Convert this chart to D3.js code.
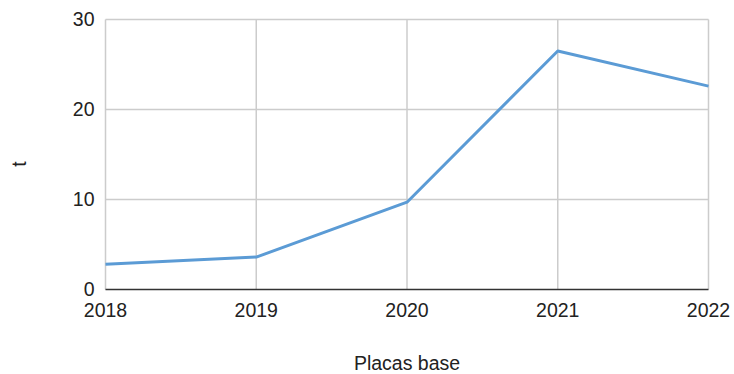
<!DOCTYPE html>
<html>
<head>
<meta charset="utf-8">
<script src="https://cdn.jsdelivr.net/npm/d3@7"></script>
<style>
  html, body { margin: 0; padding: 0; background: #fff; }
  svg { display: block; font-family: "Liberation Sans", Arial, sans-serif; }
</style>
</head>
<body>
<svg id="chart" width="734" height="374"></svg>
<script>
// Yearly tonnage of motherboards
const years = ["2018", "2019", "2020", "2021", "2022"];
const tonnes = [2.8, 3.6, 9.7, 26.5, 22.6];
const yTicks = [0, 10, 20, 30];
const xTitle = "Placas base";
const yTitle = "t";

const svg = d3.select("#chart");
const margin = { left: 105.5, right: 25.5, top: 19.5, bottom: 84.5 };
const W = 734, H = 374;
const fontSize = 19.5;

const x = d3.scalePoint().domain(years).range([margin.left, W - margin.right]);
const y = d3.scaleLinear().domain([0, 30]).range([H - margin.bottom, margin.top]);

// horizontal gridlines
svg.append("g").selectAll("line").data(yTicks.filter(d => d !== 0)).join("line")
  .attr("x1", margin.left).attr("x2", W - margin.right)
  .attr("y1", d => y(d)).attr("y2", d => y(d))
  .attr("stroke", "#cccccc").attr("stroke-width", 1.5);

// vertical gridlines
svg.append("g").selectAll("line").data(years).join("line")
  .attr("x1", d => x(d)).attr("x2", d => x(d))
  .attr("y1", margin.top).attr("y2", y(0))
  .attr("stroke", "#cccccc").attr("stroke-width", 1.5);

// baseline
svg.append("line")
  .attr("x1", margin.left).attr("x2", W - margin.right)
  .attr("y1", y(0)).attr("y2", y(0))
  .attr("stroke", "#333333").attr("stroke-width", 1.5);

// y tick labels
svg.append("g").selectAll("text").data(yTicks).join("text")
  .attr("x", margin.left - 11).attr("y", d => y(d))
  .attr("dy", "0.35em").attr("text-anchor", "end")
  .attr("font-size", fontSize).attr("fill", "#222")
  .text(d => d);

// x tick labels
svg.append("g").selectAll("text").data(years).join("text")
  .attr("x", d => x(d)).attr("y", y(0) + 27)
  .attr("text-anchor", "middle")
  .attr("font-size", fontSize).attr("fill", "#222")
  .text(d => d);

// series line
const line = d3.line().x((d, i) => x(years[i])).y(d => y(d));
svg.append("path").datum(tonnes)
  .attr("d", line)
  .attr("fill", "none")
  .attr("stroke", "#5b9bd5")
  .attr("stroke-width", 3)
  .attr("stroke-linejoin", "round");

// axis titles
svg.append("text")
  .attr("x", (margin.left + W - margin.right) / 2).attr("y", 370)
  .attr("text-anchor", "middle").attr("font-size", fontSize).attr("fill", "#222")
  .text(xTitle);

svg.append("text")
  .attr("transform", `translate(26, 164) rotate(-90)`)
  .attr("text-anchor", "middle").attr("font-size", fontSize).attr("fill", "#222")
  .text(yTitle);
</script>
</body>
</html>
